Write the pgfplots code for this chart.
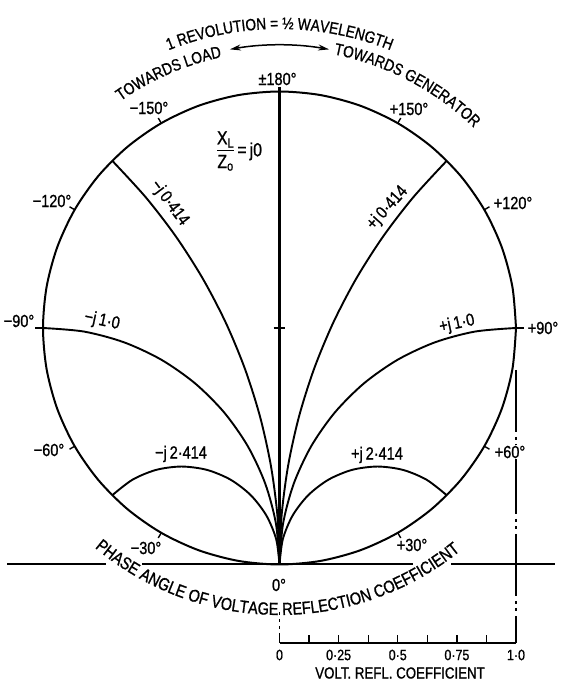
\documentclass[border=0pt]{standalone}
\usepackage{fontspec}
\setmainfont{Liberation Sans}[FakeStretch=0.83, FakeBold=1]
\usepackage{pgfplots}
\pgfplotsset{compat=1.18}
\usetikzlibrary{decorations.text,arrows.meta}

\newcommand\lab{\fontsize{17.5}{20}\selectfont}

\begin{document}
\begin{tikzpicture}
\begin{axis}[x=236.5pt, y=236.5pt,
  xmin=-1.18182, xmax=1.23256, ymin=-1.49683, ymax=1.38689,
  hide axis, clip=false,
  every axis plot/.append style={black, line width=1.9pt, mark=none}]
% |Gamma| = 1 boundary, phase 0 at the bottom, +90 to the right
\addplot[smooth, line width=2pt] coordinates {
 (1,0) (0.98481,0.17365) (0.93969,0.34202) (0.86603,0.5) (0.76604,0.64279)
 (0.64279,0.76604) (0.5,0.86603) (0.34202,0.93969) (0.17365,0.98481) (0,1)
 (-0.17365,0.98481) (-0.34202,0.93969) (-0.5,0.86603) (-0.64279,0.76604)
 (-0.76604,0.64279) (-0.86603,0.5) (-0.93969,0.34202) (-0.98481,0.17365) (-1,0)
 (-0.98481,-0.17365) (-0.93969,-0.34202) (-0.86603,-0.5) (-0.76604,-0.64279)
 (-0.64279,-0.76604) (-0.5,-0.86603) (-0.34202,-0.93969) (-0.17365,-0.98481) (0,-1)
 (0.17365,-0.98481) (0.34202,-0.93969) (0.5,-0.86603) (0.64279,-0.76604)
 (0.76604,-0.64279) (0.86603,-0.5) (0.93969,-0.34202) (0.98481,-0.17365) (1,0)};
% X/Z0 = j0
\addplot[line width=2.2pt] coordinates {(0,-1) (0,1.02)};
% X/Z0 = +j0.414 and -j0.414
\addplot[smooth] coordinates {(0,-1) (0.00920,-0.78958) (0.03667,-0.58077) (0.08225,-0.37516)
 (0.14560,-0.17429) (0.22619,0.02029) (0.32344,0.20711) (0.43661,0.38474) (0.56483,0.55183) (0.70711,0.70711)};
\addplot[smooth] coordinates {(0,-1) (-0.00920,-0.78958) (-0.03667,-0.58077) (-0.08225,-0.37516)
 (-0.14560,-0.17429) (-0.22619,0.02029) (-0.32344,0.20711) (-0.43661,0.38474) (-0.56483,0.55183) (-0.70711,0.70711)};
% X/Z0 = +j1.0 and -j1.0
\addplot[smooth] coordinates {(0,-1) (0.01519,-0.82635) (0.06031,-0.65798) (0.13397,-0.5) (0.23396,-0.35721)
 (0.35721,-0.23396) (0.5,-0.13397) (0.65798,-0.06031) (0.82635,-0.01519) (1,0)};
\addplot[smooth] coordinates {(0,-1) (-0.01519,-0.82635) (-0.06031,-0.65798) (-0.13397,-0.5) (-0.23396,-0.35721)
 (-0.35721,-0.23396) (-0.5,-0.13397) (-0.65798,-0.06031) (-0.82635,-0.01519) (-1,0)};
% X/Z0 = +j2.414 and -j2.414
\addplot[smooth] coordinates {(0,-1) (0.01411,-0.89279) (0.05549,-0.79289) (0.12132,-0.70711) (0.20711,-0.64128)
 (0.30701,-0.59990) (0.41421,-0.58579) (0.52141,-0.59990) (0.62132,-0.64128) (0.70711,-0.70711)};
\addplot[smooth] coordinates {(0,-1) (-0.01411,-0.89279) (-0.05549,-0.79289) (-0.12132,-0.70711) (-0.20711,-0.64128)
 (-0.30701,-0.59990) (-0.41421,-0.58579) (-0.52141,-0.59990) (-0.62132,-0.64128) (-0.70711,-0.70711)};
% phase ticks on the rim
\addplot[line width=1.4pt] coordinates {(0.5,-0.86603) (0.5125,-0.88768)};
\addplot[line width=1.4pt] coordinates {(0.86603,-0.5) (0.88768,-0.5125)};
\addplot[line width=1.4pt] coordinates {(1,0) (1.034,0)};
\addplot[line width=1.4pt] coordinates {(0.86603,0.5) (0.88768,0.5125)};
\addplot[line width=1.4pt] coordinates {(0.5,0.86603) (0.5125,0.88768)};
\addplot[line width=1.4pt] coordinates {(-0.5,-0.86603) (-0.5125,-0.88768)};
\addplot[line width=1.4pt] coordinates {(-0.86603,-0.5) (-0.88768,-0.5125)};
\addplot[line width=1.4pt] coordinates {(-1,0) (-1.034,0)};
\addplot[line width=1.4pt] coordinates {(-0.86603,0.5) (-0.88768,0.5125)};
\addplot[line width=1.4pt] coordinates {(-0.5,0.86603) (-0.5125,0.88768)};
% centre mark
\addplot[line width=1.4pt] coordinates {(-0.025,0) (0.025,0)};
% tangent line through phase 0
\addplot[line width=2pt] coordinates {(-1.15222,-1) (-0.73362,-1)};
\addplot[line width=2pt] coordinates {(-0.58140,-1) (0.56448,-1)};
\addplot[line width=2pt] coordinates {(0.72516,-1) (1.16490,-1)};
% projection lines down to the magnitude scale
\addplot[line width=1.6pt, dash pattern=on 62pt off 5pt on 3pt off 4pt on 3pt off 5pt]
  coordinates {(1,-0.17759) (1,-1.33192)};
\addplot[line width=1.6pt, dash pattern=on 3pt off 4pt] coordinates {(0,-1.2008) (0,-1.33192)};
% magnitude scale 0 ... 1
\addplot[line width=1.5pt] coordinates {(0,-1.33192) (1,-1.33192)};
\addplot[line width=1.3pt] coordinates {(0,-1.33192) (0,-1.2981)};
\addplot[line width=1.3pt] coordinates {(0.125,-1.33192) (0.125,-1.2981)};
\addplot[line width=1.3pt] coordinates {(0.25,-1.33192) (0.25,-1.2981)};
\addplot[line width=1.3pt] coordinates {(0.375,-1.33192) (0.375,-1.2981)};
\addplot[line width=1.3pt] coordinates {(0.5,-1.33192) (0.5,-1.2981)};
\addplot[line width=1.3pt] coordinates {(0.625,-1.33192) (0.625,-1.2981)};
\addplot[line width=1.3pt] coordinates {(0.75,-1.33192) (0.75,-1.2981)};
\addplot[line width=1.3pt] coordinates {(0.875,-1.33192) (0.875,-1.2981)};
\addplot[line width=1.3pt] coordinates {(1,-1.33192) (1,-1.2981)};
\coordinate (C) at (axis cs:0,0);
\coordinate (SW) at (axis cs:-1.18182,-1.49683);
\coordinate (NE) at (axis cs:1.23256,1.38689);
\end{axis}

\begin{scope}[shift={(C)}, x=1pt, y=1pt]
  % phase angle labels
  \node[font=\lab] at (-2,249) {±180°};
  \node[font=\lab] at (-130.5,220) {−150°};
  \node[font=\lab] at (-227.5,127) {−120°};
  \node[font=\lab] at (-260.5,7) {−90°};
  \node[font=\lab] at (-230.5,-122) {−60°};
  \node[font=\lab] at (-133.5,-220) {−30°};
  \node[font=\lab] at (-0.5,-257) {0°};
  \node[font=\lab] at (132.5,-217) {+30°};
  \node[font=\lab, fill=white, inner sep=1pt] at (230.5,-124) {+60°};
  \node[font=\lab] at (263.5,0) {+90°};
  \node[font=\lab] at (233.5,125) {+120°};
  \node[font=\lab] at (129.5,219) {+150°};
  % reactance labels
  \node[font=\fontsize{19}{21}\selectfont] at (-40,176) {\begin{tabular}{@{}c@{}}X\textsubscript{L}\\[-1pt]\hline\rule{0pt}{18pt}Z\textsubscript{o}\end{tabular}\,=\,j0};
  \node[font=\lab, rotate=-53] at (-110,125) {−j\,0·414};
  \node[font=\lab, rotate=48] at (108,120) {+j\,0·414};
  \node[font=\lab, rotate=-12] at (-177.5,7) {−j\,1·0};
  \node[font=\lab, rotate=12] at (177.5,4) {+j\,1·0};
  \node[font=\lab] at (-98.5,-126) {−j\,2·414};
  \node[font=\lab] at (97.5,-127) {+j\,2·414};
  % magnitude scale labels
  \begin{scope}[every node/.style={font=\fontsize{15}{17}\selectfont}]
    \node at (0,-327) {0};
    \node at (59.1,-327) {0·25};
    \node at (118.25,-327) {0·5};
    \node at (177.4,-327) {0·75};
    \node at (236.5,-327) {1·0};
    \node[font=\fontsize{16}{18}\selectfont] at (120.5,-345) {VOLT. REFL. COEFFICIENT};
  \end{scope}
  % curved captions
  \path[decorate, decoration={text along path, text align=center,
    text={|\fontsize{16.5}{18}\selectfont|1 REVOLUTION = ½ WAVELENGTH}}]
    (130:299pt) arc[start angle=130, end angle=50, radius=299pt];
  \path[decorate, decoration={text along path, text align=center,
    text={|\fontsize{16.5}{18}\selectfont|TOWARDS LOAD}}]
    (150:277pt) arc[start angle=150, end angle=77, radius=277pt];
  \path[decorate, decoration={text along path, text align=center,
    text={|\fontsize{16.5}{18}\selectfont|TOWARDS GENERATOR}}]
    (100:279pt) arc[start angle=100, end angle=24.6, radius=279pt];
  \path[decorate, decoration={text along path, text align=center,
    text={|\fontsize{17.5}{19}\selectfont|PHASE ANGLE OF VOLTAGE REFLECTION COEFFICIENT}}]
    (215:287pt) arc[start angle=215, end angle=324, radius=287pt];
  \draw[line width=1.5pt, {Stealth[length=11pt,width=6pt]}-{Stealth[length=11pt,width=6pt]}]
    (100.1:283pt) arc[start angle=100.1, end angle=79.9, radius=283pt];
\end{scope}
\pgfresetboundingbox
\path[use as bounding box] (SW) rectangle (NE);
\end{tikzpicture}
\end{document}
